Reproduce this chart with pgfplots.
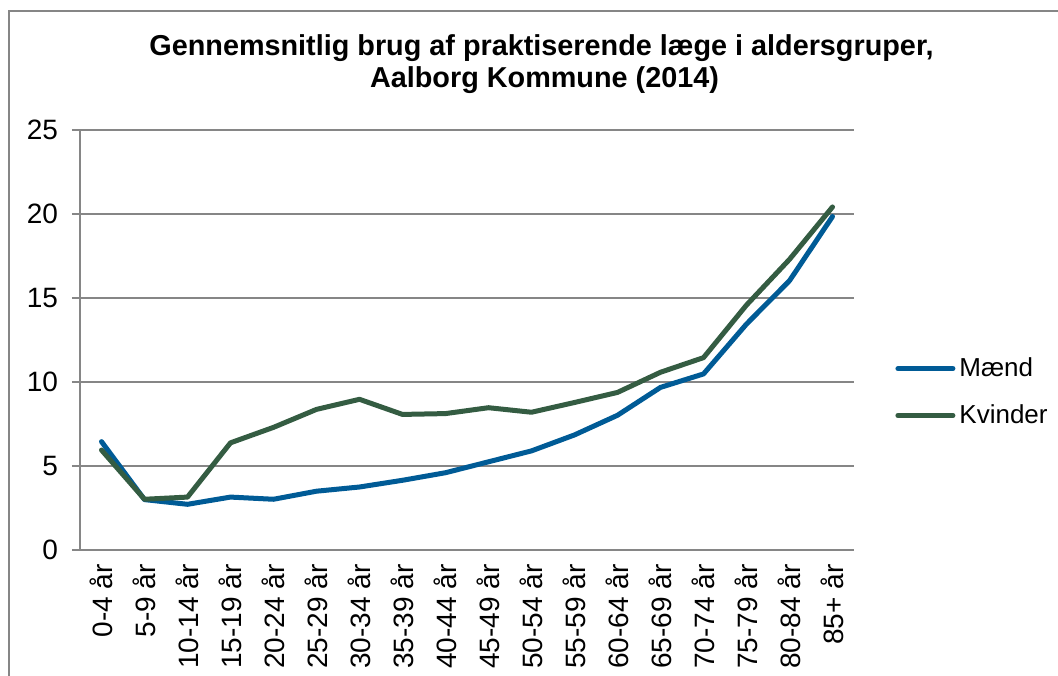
\documentclass[border=0pt]{standalone}
\usepackage{pgfplots}
\pgfplotsset{compat=1.18}
\usepackage{fontspec}
\setmainfont{Liberation Sans}
\definecolor{maend}{RGB}{0,91,150}
\definecolor{kvinder}{RGB}{52,92,66}
\definecolor{gridgray}{RGB}{134,134,134}
\begin{document}
\begin{tikzpicture}
\useasboundingbox (0,0) rectangle (529pt,337.5pt);
\draw[gridgray, line width=0.75pt] (4.5pt,-2pt) -- (4.5pt,332pt) -- (531pt,332pt);
\node[anchor=base, font=\bfseries\fontsize{14.4}{17}\selectfont] at (270.75pt,309.5pt) {Gennemsnitlig brug af praktiserende læge i aldersgruper,};
\node[anchor=base, font=\bfseries\fontsize{14.4}{17}\selectfont] at (272.25pt,293.5pt) {Aalborg Kommune (2014)};
\begin{axis}[
  at={(40pt,62.5pt)}, anchor=south west,
  scale only axis, width=387pt, height=210pt,
  xmin=-0.5, xmax=17.5, ymin=0, ymax=25,
  axis x line*=bottom, axis y line*=left,
  axis line style={gridgray, line width=0.75pt, -},
  xtick={0,...,17},
  xticklabels={0-4 år,5-9 år,10-14 år,15-19 år,20-24 år,25-29 år,30-34 år,35-39 år,40-44 år,45-49 år,50-54 år,55-59 år,60-64 år,65-69 år,70-74 år,75-79 år,80-84 år,85+ år},
  minor xtick={-0.5,0.5,...,17.5},
  ytick={0,5,...,25},
  tick align=outside,
  major tick length=4pt, minor tick length=3.5pt,
  xtick style={draw=none},
  minor tick style={gridgray, line width=0.75pt},
  ytick style={gridgray, line width=0.75pt},
  ymajorgrids, grid style={gridgray, line width=0.75pt},
  tick label style={font=\fontsize{14}{16}\selectfont},
  /pgf/number format/assume math mode=true,
  xticklabel shift=3pt,
  xticklabel style={rotate=90, anchor=east, inner sep=0pt},
  yticklabel style={xshift=-3.5pt},
  legend style={at={(1.053,0.376)}, anchor=west, draw=none, fill=none, inner sep=0pt,
    font=\fontsize{13}{15}\selectfont, row sep=8.5pt, cells={anchor=west}},
  legend image code/.code={\draw[#1, line cap=round] (0pt,0pt) -- (27.5pt,0pt);},
  clip=false,
]
\addplot[maend, line width=2.5pt, line join=round, line cap=round] coordinates {
(0,6.45) (1,3.0) (2,2.72) (3,3.15) (4,3.02) (5,3.5) (6,3.75) (7,4.15) (8,4.6) (9,5.25) (10,5.9) (11,6.85) (12,8.02) (13,9.68) (14,10.48) (15,13.45) (16,16.03) (17,19.85)};
\addlegendentry{Mænd}
\addplot[kvinder, line width=2.5pt, line join=round, line cap=round] coordinates {
(0,5.95) (1,3.02) (2,3.15) (3,6.38) (4,7.3) (5,8.37) (6,8.97) (7,8.07) (8,8.12) (9,8.47) (10,8.2) (11,8.78) (12,9.38) (13,10.58) (14,11.45) (15,14.58) (16,17.3) (17,20.42)};
\addlegendentry{Kvinder}
\end{axis}
\end{tikzpicture}
\end{document}
